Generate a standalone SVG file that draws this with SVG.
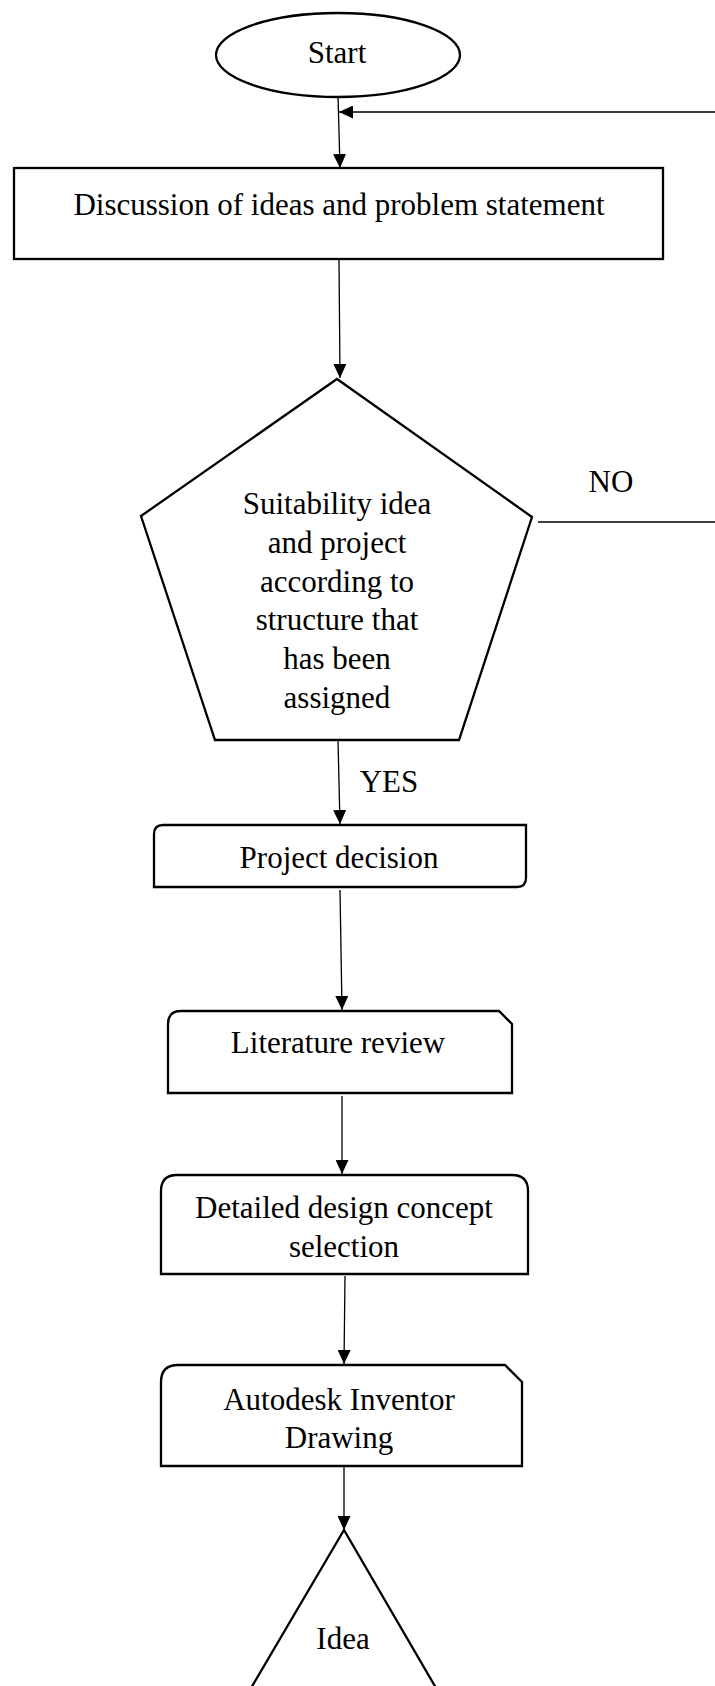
<svg xmlns="http://www.w3.org/2000/svg" width="715" height="1686" viewBox="0 0 715 1686">
<style>
.node{fill:#fff;stroke:#000;stroke-width:2.3;stroke-linejoin:miter}
.conn{fill:none;stroke:#000;stroke-width:1.3}
.t{font-family:"Liberation Serif","Times New Roman",serif;font-size:31px;fill:#000;text-anchor:middle}
</style>
<defs>
<marker id="arr" markerUnits="userSpaceOnUse" markerWidth="14" markerHeight="13" refX="14" refY="6.5" orient="auto">
<path d="M0,0 L14,6.5 L0,13 Z" fill="#000"/>
</marker>
</defs>
<rect width="715" height="1686" fill="#fff"/>
<g id="connectors">
<line class="conn" x1="338" y1="95" x2="340" y2="168" marker-end="url(#arr)"/>
<line class="conn" x1="715" y1="112" x2="339" y2="112" marker-end="url(#arr)"/>
<line class="conn" x1="339" y1="259" x2="340" y2="378" marker-end="url(#arr)"/>
<line class="conn" x1="538" y1="522" x2="715" y2="522"/>
<line class="conn" x1="338" y1="740" x2="340" y2="824" marker-end="url(#arr)"/>
<line class="conn" x1="340" y1="890" x2="342" y2="1010" marker-end="url(#arr)"/>
<line class="conn" x1="342" y1="1096" x2="342" y2="1174" marker-end="url(#arr)"/>
<line class="conn" x1="345" y1="1276" x2="344" y2="1364" marker-end="url(#arr)"/>
<line class="conn" x1="344" y1="1466" x2="344" y2="1530" marker-end="url(#arr)"/>
<text class="t" x="611" y="492">NO</text>
<text class="t" x="389" y="792">YES</text>
</g>
<g id="start">
<ellipse class="node" cx="338" cy="55" rx="122" ry="42"/>
<text class="t" x="337" y="63">Start</text>
</g>
<g id="discussion">
<rect class="node" x="14" y="168" width="649" height="91" stroke-width="2.6"/>
<text class="t" x="339" y="215">Discussion of ideas and problem statement</text>
</g>
<g id="suitability">
<polygon class="node" points="337,379 532,517 459,740 215,740 141,516"/>
<text class="t" x="337" y="514">Suitability idea</text>
<text class="t" x="337" y="553">and project</text>
<text class="t" x="337" y="592">according to</text>
<text class="t" x="337" y="630">structure that</text>
<text class="t" x="337" y="669">has been</text>
<text class="t" x="337" y="708">assigned</text>
</g>
<g id="project-decision">
<path class="node" d="M154,887 L154,834 Q154,825 163,825 L526,825 L526,878 Q526,887 517,887 Z"/>
<text class="t" x="339" y="868">Project decision</text>
</g>
<g id="literature-review">
<path class="node" d="M168,1093 L168,1024 Q168,1011 181,1011 L499,1011 L512,1024 L512,1093 Z"/>
<text class="t" x="338" y="1053">Literature review</text>
</g>
<g id="detailed-design">
<path class="node" d="M161,1274 L161,1191 Q161,1175 177,1175 L512,1175 Q528,1175 528,1191 L528,1274 Z"/>
<text class="t" x="344" y="1218">Detailed design concept</text>
<text class="t" x="344" y="1257">selection</text>
</g>
<g id="autodesk">
<path class="node" d="M161,1466 L161,1382 Q161,1365 178,1365 L505,1365 L522,1382 L522,1466 Z"/>
<text class="t" x="339" y="1410">Autodesk Inventor</text>
<text class="t" x="339" y="1448">Drawing</text>
</g>
<g id="idea">
<path class="node" d="M244,1700 L344,1530 L443,1700 Z"/>
<text class="t" x="343" y="1649">Idea</text>
</g>
</svg>
